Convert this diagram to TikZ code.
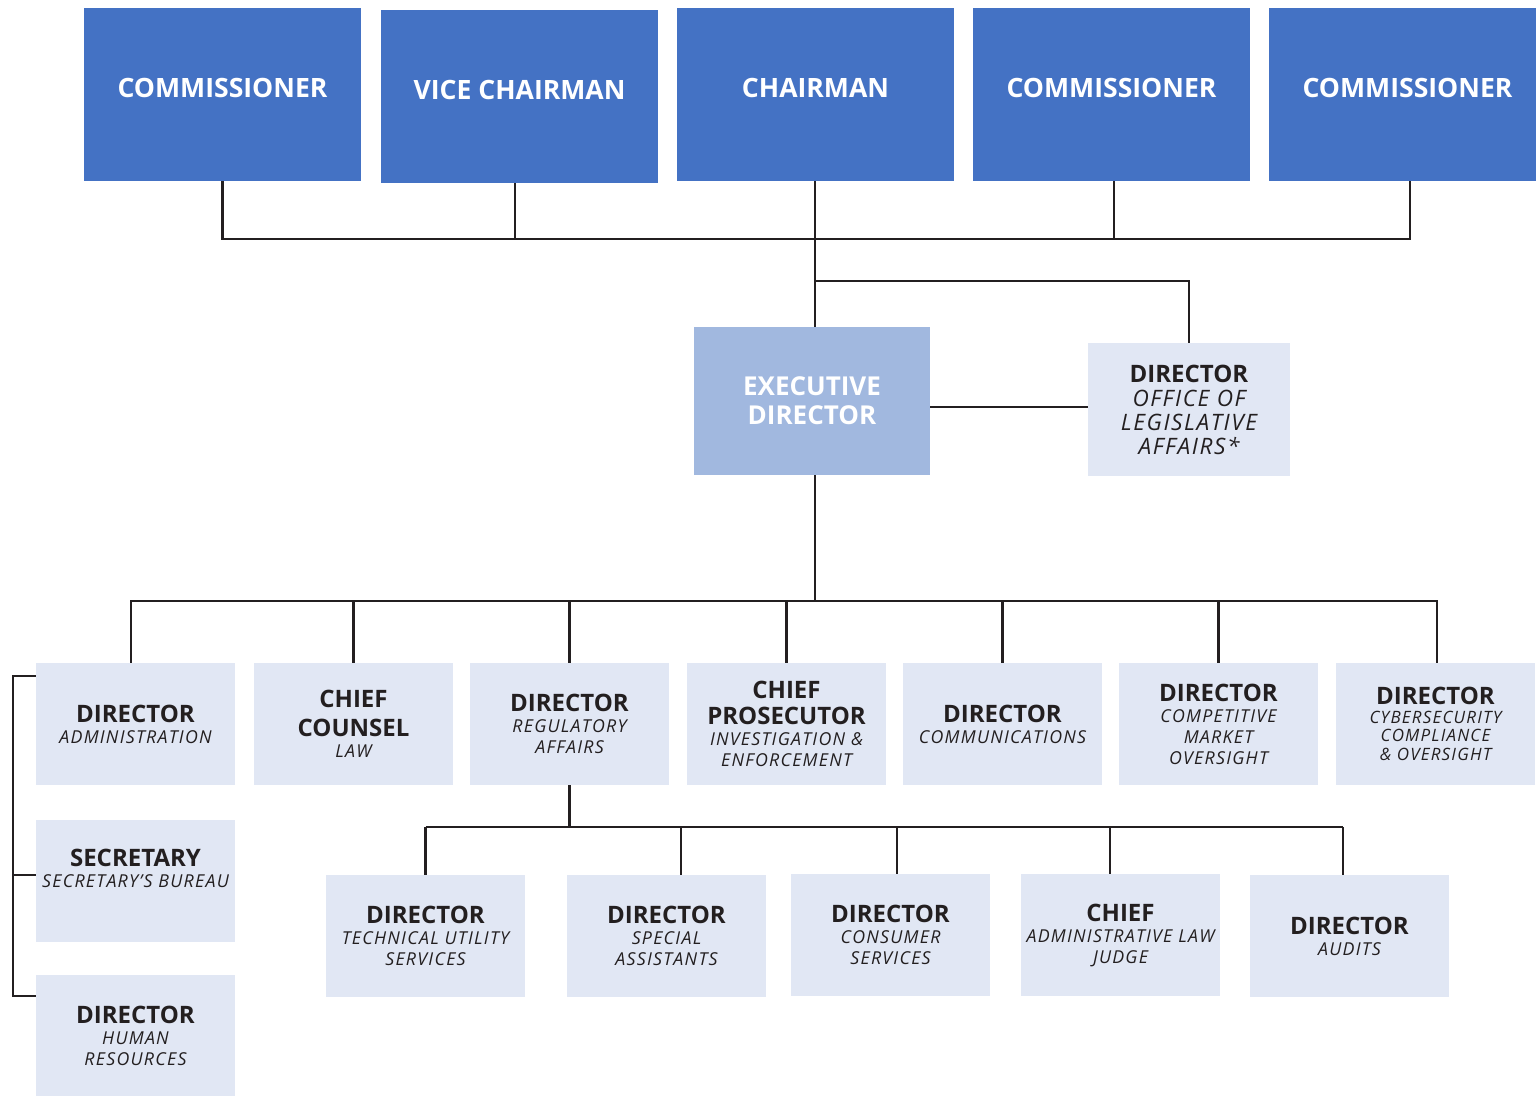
\documentclass[tikz,border=0pt]{standalone}
\usepackage{fontspec}
\setmainfont{Open Sans}[ItalicFeatures={LetterSpace=7}]
\definecolor{topblue}{HTML}{4472C4}
\definecolor{execblue}{HTML}{A1B8DF}
\definecolor{unitblue}{HTML}{E1E7F4}
\definecolor{ink}{HTML}{231F20}
\newcommand\ttl[1]{{\fontsize{12}{14.5}\selectfont\bfseries\upshape #1}}
\tikzset{
	topbox/.style={fill=topblue,text=white,inner sep=0pt,minimum width=138.5pt,minimum height=86.5pt,font=\fontsize{13.3}{16}\selectfont\bfseries,text height=9.5pt,text depth=6.5pt},
	unitbox/.style={fill=unitblue,text=ink,inner sep=0pt,minimum width=99.5pt,minimum height=61pt,align=center,font=\fontsize{8.9}{10.5}\selectfont\itshape},
	unittext/.style={text=ink,inner sep=0pt,align=center,font=\fontsize{8.9}{10.5}\selectfont\itshape},
	link/.style={draw=ink,line width=1.1pt},
}
\begin{document}
\begin{tikzpicture}[x=.5pt,y=-.5pt]
	\useasboundingbox (0,0) rectangle (1536,1096);
	% board
	\node[topbox] (com1) at (222.5,94.5) {COMMISSIONER};
	\node[topbox] (vice) at (519.5,96.5) {VICE CHAIRMAN};
	\node[topbox] (chair) at (815.5,94.5) {CHAIRMAN};
	\node[topbox] (com2) at (1111.5,94.5) {COMMISSIONER};
	\node[topbox] (com3) at (1407.5,94.5) {COMMISSIONER};
	% executive
	\node[fill=execblue,text=white,inner sep=0pt,minimum width=118pt,minimum height=74pt,align=center,font=\fontsize{13}{14.5}\selectfont\bfseries] (exec) at (812,401) {EXECUTIVE\\DIRECTOR};
	\node[unitbox,minimum width=101pt,minimum height=66.5pt,font=\fontsize{11.3}{12}\selectfont\itshape] (legis) at (1189,409.5) {\ttl{DIRECTOR}\\OFFICE OF\\LEGISLATIVE\\AFFAIRS*};
	% directors
	\node[unitbox] (admin) at (135.5,724) {\ttl{DIRECTOR}\\ADMINISTRATION};
	\node[unitbox] (couns) at (353.5,724) {\ttl{CHIEF}\\[4pt]\ttl{COUNSEL}\\LAW};
	\node[unitbox] (regul) at (569.5,724) {\ttl{DIRECTOR}\\REGULATORY\\AFFAIRS};
	\node[unitbox] (prose) at (786.5,724) {\ttl{CHIEF}\\[2.5pt]\ttl{PROSECUTOR}\\INVESTIGATION \&\\ENFORCEMENT};
	\node[unitbox] (comms) at (1002.5,724) {\ttl{DIRECTOR}\\COMMUNICATIONS};
	\node[unitbox] (compet) at (1218.5,724) {\ttl{DIRECTOR}\\COMPETITIVE\\MARKET\\OVERSIGHT};
	\node[unitbox,font=\fontsize{8.5}{9.3}\selectfont\itshape] (cyber) at (1435.5,724) {\ttl{DIRECTOR}\\CYBERSECURITY\\COMPLIANCE\\\& OVERSIGHT};
	\node[unitbox,label={[unittext,yshift=6.5pt]center:{\ttl{SECRETARY}\\SECRETARY’S BUREAU}}] (secr) at (135.5,881) {};
	\node[unitbox] (hres) at (135.5,1036) {\ttl{DIRECTOR}\\HUMAN\\RESOURCES};
	% regulatory affairs
	\node[unitbox] (tech) at (425.5,936) {\ttl{DIRECTOR}\\TECHNICAL UTILITY\\SERVICES};
	\node[unitbox] (spec) at (666.5,936) {\ttl{DIRECTOR}\\SPECIAL\\ASSISTANTS};
	\node[unitbox] (cons) at (890.5,935) {\ttl{DIRECTOR}\\CONSUMER\\SERVICES};
	\node[unitbox] (alj) at (1120.5,935) {\ttl{CHIEF}\\ADMINISTRATIVE LAW\\JUDGE};
	\node[unitbox] (audit) at (1349.5,936) {\ttl{DIRECTOR}\\AUDITS};
	% connectors
	\coordinate (topbus) at (815,239);
	\coordinate (legbus) at (815,281);
	\coordinate (midbus) at (815,601);
	\coordinate (lowbus) at (570,827);
	\draw[link] (com1.south) |- (topbus) -| ([xshift=1.25pt]com3.south);
	\foreach \n/\dx in {vice/-2.25,chair/-.25,com2/1.25}{
		\draw[link] ([xshift=\dx pt]\n.south) -- ([xshift=\dx pt]\n.south |- topbus);
	}
	\draw[link] (topbus) -- (topbus |- exec.north);
	\draw[link] (legbus) -| (legis.north);
	\draw[link] ([yshift=-3pt]exec.east) -- ([yshift=-3pt]exec.east -| legis.west);
	\draw[link] (exec.south -| midbus) -- (midbus);
	\draw[link] ([xshift=-2.25pt]admin.north) |- (midbus) -| ([xshift=.75pt]cyber.north);
	\foreach \n in {couns,regul,prose,comms,compet}{
		\draw[link] (\n.north) -- (\n.north |- midbus);
	}
	\draw[link] ([yshift=-6.5pt]admin.north west) -| ([xshift=-11.5pt,yshift=-10.5pt]hres.north west) -- ([yshift=-10.5pt]hres.north west);
	\draw[link] ([yshift=-27.5pt]secr.north west) -- ++(-11.5pt,0);
	\draw[link] (regul.south) -- (regul.south |- lowbus);
	\draw[link] (tech.north |- lowbus) -- ([xshift=-3.25pt]audit.north |- lowbus);
	\foreach \n/\dx in {tech/0,spec/7.25,cons/3.25,alj/-5.25,audit/-3.25}{
		\draw[link] ([xshift=\dx pt]\n.north) -- ([xshift=\dx pt]\n.north |- lowbus);
	}
\end{tikzpicture}
\end{document}
